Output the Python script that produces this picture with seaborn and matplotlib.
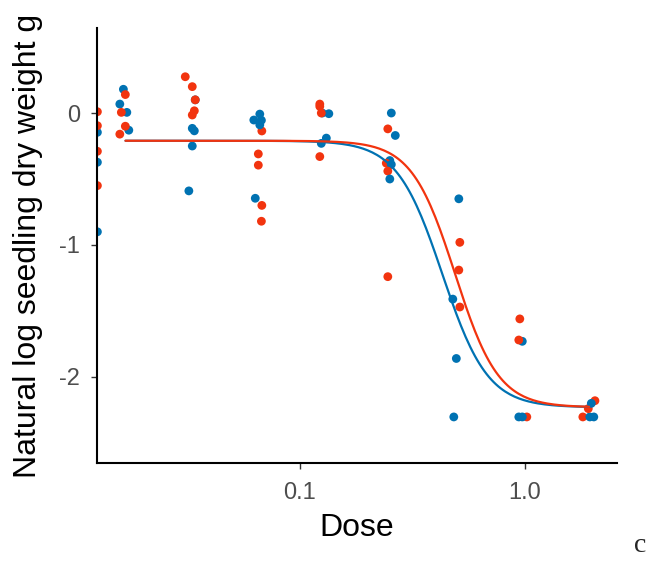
import matplotlib
matplotlib.use("Agg")
import matplotlib.pyplot as plt
import numpy as np
import pandas as pd
import seaborn as sns

# observed points (dose jittered as seen in the picture, ln dry weight)
blue_dose = [0.0126, 0.0126, 0.0126,
             0.01644, 0.01585, 0.01703, 0.01738,
             0.0343, 0.03327, 0.03398, 0.03327, 0.03213,
             0.0664, 0.06246, 0.0675, 0.0664, 0.0634,
             0.1259, 0.1346, 0.1312, 0.1246,
             0.2551, 0.2657, 0.2512, 0.2551, 0.2512,
             0.5090, 0.4786, 0.4962, 0.4835,
             0.9747, 0.9404, 0.9747,
             1.945, 2.026, 1.975]
blue_weight = [-0.146, -0.373, -0.90,
               0.18, 0.068, 0.005, -0.13,
               0.10, -0.116, -0.135, -0.25, -0.59,
               -0.008, -0.053, -0.055, -0.09, -0.646,
               0.0, -0.005, -0.19, -0.23,
               0.0, -0.17, -0.36, -0.39, -0.50,
               -0.65, -1.41, -1.86, -2.303,
               -1.73, -2.303, -2.303,
               -2.303, -2.303, -2.20]

red_dose = [0.0126, 0.0126, 0.0126, 0.0126,
            0.01677, 0.0161, 0.01677, 0.01585,
            0.03097, 0.03327, 0.0343, 0.03398, 0.03327,
            0.0678, 0.0654, 0.0654, 0.0678, 0.0675,
            0.1227, 0.1227, 0.1246, 0.1227,
            0.2461, 0.2423, 0.2461, 0.2461,
            0.5143, 0.5090, 0.5143,
            0.9502, 0.9404, 1.0207,
            1.811, 1.915, 2.05]
red_weight = [0.01, -0.096, -0.29, -0.55,
              0.14, 0.005, -0.10, -0.16,
              0.275, 0.20, 0.10, 0.017, -0.015,
              -0.136, -0.31, -0.395, -0.70, -0.82,
              0.068, 0.05, 0.0, -0.33,
              -0.12, -0.38, -0.44, -1.24,
              -0.98, -1.19, -1.47,
              -1.56, -1.72, -2.303,
              -2.303, -2.24, -2.18]

# log-logistic fit parameters: slope, lower, upper, ED50
blue_fit = dict(b=4.3, c=-2.23, d=-0.21, e=0.43)
red_fit = dict(b=4.5, c=-2.23, d=-0.21, e=0.49)
curve_range = (0.0168, 1.93)

colors = {"blue": "#0072B2", "red": "#F2340F"}

points = pd.concat([
    pd.DataFrame({"dose": blue_dose, "weight": blue_weight, "group": "blue"}),
    pd.DataFrame({"dose": red_dose, "weight": red_weight, "group": "red"}),
]).sort_index(kind="stable").reset_index(drop=True)


def ll4(x, b, c, d, e):
    return c + (d - c) / (1 + np.exp(b * (np.log(x) - np.log(e))))


grid = np.geomspace(*curve_range, 200)
curves = pd.concat([
    pd.DataFrame({"dose": grid, "weight": ll4(grid, **blue_fit), "group": "blue"}),
    pd.DataFrame({"dose": grid, "weight": ll4(grid, **red_fit), "group": "red"}),
])

sns.set_theme(style="white")
plt.rcParams["font.family"] = ["Liberation Sans", "DejaVu Sans"]

fig = plt.figure(figsize=(6.5, 5.61), dpi=100)
ax = fig.add_axes([0.149, 0.1747, 0.80, 0.7753])

sns.scatterplot(data=points, x="dose", y="weight", hue="group", palette=colors,
                s=40, linewidth=0, legend=False, ax=ax, zorder=2)
sns.lineplot(data=curves, x="dose", y="weight", hue="group", palette=colors,
             linewidth=1.6, legend=False, ax=ax, zorder=3, sort=False)

ax.set_xscale("log")
ax.set_xlim(0.01253, 2.565)
ax.set_ylim(-2.652, 0.644)
ax.set_xticks([0.1, 1.0])
ax.set_xticklabels(["0.1", "1.0"])
ax.minorticks_off()
ax.set_yticks([0, -1, -2])
ax.set_yticklabels(["0", "-1", "-2"])

ax.tick_params(axis="both", length=4, width=1, color="#333333",
               labelcolor="#4D4D4D", labelsize=17, bottom=True, left=True)
ax.tick_params(axis="x", pad=10)
ax.tick_params(axis="y", pad=8)
for side in ["top", "right"]:
    ax.spines[side].set_visible(False)
for side in ["left", "bottom"]:
    ax.spines[side].set_color("black")
    ax.spines[side].set_linewidth(1.5)

ax.set_xlabel("Dose", fontsize=23, color="black", labelpad=6)
ax.set_ylabel("Natural log seedling dry weight g", fontsize=23, color="black", labelpad=12)

fig.text(0.985, 0.005, "c", family=["Liberation Serif", "DejaVu Serif"],
         fontsize=20, ha="center", va="bottom")

fig.savefig("out.png", dpi=100)
